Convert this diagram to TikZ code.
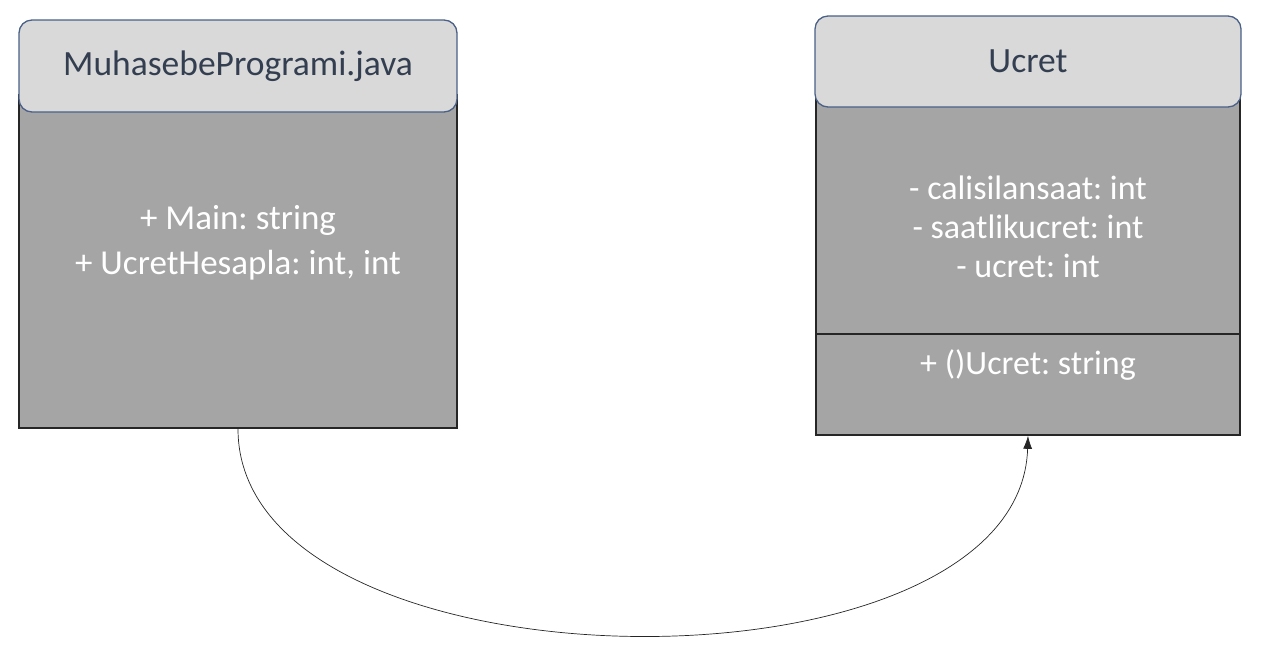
\documentclass[tikz,border=0pt]{standalone}
\usepackage{fontspec}
\setmainfont{Carlito}
\frenchspacing
\usetikzlibrary{arrows.meta,calc}
\definecolor{hdrfill}{HTML}{D9D9D9}
\definecolor{hdrline}{HTML}{4A6088}
\definecolor{hdrtext}{HTML}{333F50}
\definecolor{bodyfill}{HTML}{A5A5A5}
\tikzset{hdr/.style={draw=hdrline, fill=hdrfill, line width=1.3pt, rounded corners=13pt,
    text=hdrtext, font=\fontsize{35.5}{42}\selectfont},
  body/.style={draw=black!85, fill=bodyfill, line width=1.6pt},
  txt/.style={text=white, align=center},
  link/.style={-{Latex[length=13pt,width=9pt]}, line width=0.7pt, black!85}}

\begin{document}
\begin{tikzpicture}[x=1pt, y=-1pt]
  \useasboundingbox (0,0) rectangle (1265,649);
  % main program class
  \node[body, minimum width=438, minimum height=333] (mbody) at (238,261.5) {};
  \node[hdr, minimum width=438, minimum height=92] (mhdr) at (238,66) {MuhasebeProgrami.java};
  \node[txt, font=\fontsize{35}{45}\selectfont] (mops) at ($(mbody.center)+(0,-19)$)
    {+ Main: string\\+ UcretHesapla: int, int};
  % Ucret class
  \node[body, minimum width=424, minimum height=345] (ubody) at (1028,262.5) {};
  \draw[black!85, line width=1.6pt] ($(ubody.south west)+(0,-102)$) -- ($(ubody.south east)+(0,-102)$);
  \node[hdr, minimum width=426, minimum height=91] (uhdr) at (1028,61.5) {Ucret};
  \node[txt, font=\fontsize{34}{39}\selectfont] (uattr) at ($(ubody.center)+(0,-36)$)
    {- calisilansaat: int\\- saatlikucret: int\\- ucret: int};
  \node[txt, font=\fontsize{34}{39}\selectfont] (uops) at ($(ubody.south)+(0,-71)$) {+ ()Ucret: string};
  % call
  \draw[link] (mbody.south) .. controls +(0,270) and +(-8,270) .. (ubody.south);
\end{tikzpicture}
\end{document}
